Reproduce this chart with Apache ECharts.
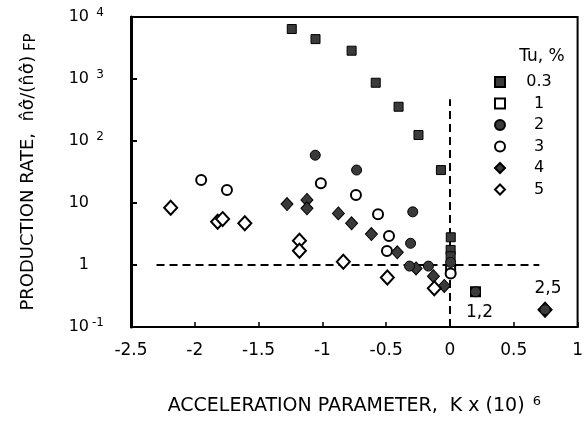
<!DOCTYPE html>
<html>
<head>
<meta charset="utf-8">
<script src="https://cdn.jsdelivr.net/npm/echarts@6/dist/echarts.min.js"></script>
<style>html,body{margin:0;padding:0;background:#fff;}#c{width:586px;height:423px;}</style>
</head>
<body>
<div id="c"></div>
<script>
// ---- data ----
var xTicks = [-2.5, -2, -1.5, -1, -0.5, 0, 0.5, 1];
var yTickExponents = [-1, 0, 1, 2, 3, 4];
var legendNames = ['0.3', '1', '2', '3', '4', '5'];
var tu03 = [[-1.24,6400],[-1.054,4400],[-0.771,2860],[-0.582,870],[-0.403,357],[-0.247,125],[-0.071,34],[0.006,2.8],[0.005,1.75],[0.005,1.38]];
var tu1  = [[0.005,0.85],[0.2,0.37]];
var tu2  = [[-1.056,59],[-0.732,34],[-0.292,7.2],[-0.309,2.24],[-0.317,0.96],[-0.169,0.96],[0.005,1.1],[0.2,0.37],[0.745,0.19]];
var tu3  = [[-1.95,23.5],[-1.748,16.2],[-1.012,20.8],[-0.737,13.5],[-0.564,6.6],[-0.478,2.94],[-0.494,1.68],[0.005,0.73]];
var tu4  = [[-1.277,9.6],[-1.121,11.2],[-1.121,8.2],[-0.875,6.8],[-0.771,4.7],[-0.616,3.16],[-0.413,1.6],[-0.266,0.88],[-0.13,0.66],[-0.045,0.46]];
var tu5  = [[-2.189,8.4],[-1.821,5.0],[-1.782,5.5],[-1.608,4.7],[-1.18,2.47],[-1.18,1.7],[-0.836,1.13],[-0.491,0.63],[-0.123,0.42],[0.745,0.19]];
var hLine = [[-2.3,1],[0.7,1]];
var vLine = [[0,0.1],[0,470]];
var notesBelow = [[0.2,0.37,'1,2']];
var notesAbove = [[0.745,0.19,'2,5']];

var FONT = 'DejaVu Sans';
var FILL = '#3a3a3a';
var chart = echarts.init(document.getElementById('c'), null, {renderer:'canvas'});

function scatter(name, data, symbol, size, filled, z) {
  return {
    name: name, type: 'scatter', data: data, symbol: symbol, symbolSize: size, z: z || 5,
    itemStyle: filled ? {color: FILL, borderColor: '#000', borderWidth: 1, opacity: 1}
                      : {color: '#fff', borderColor: '#000', borderWidth: 2, opacity: 1}
  };
}
function dashed(data) {
  return {type: 'line', data: data, symbol: 'none', z: 2, silent: true,
    lineStyle: {color: '#000', width: 2, type: [8,5]}};
}
function notes(data, pos, dist, off) {
  return {type: 'scatter', data: data, symbol: 'circle', symbolSize: 1, z: 1, silent: true,
    itemStyle: {color: '#fff', opacity: 1},
    label: {show: true, position: pos, distance: dist, offset: off, color: '#000', opacity: 1,
      fontFamily: FONT, fontSize: 17,
      formatter: function (p) { return p.data[2]; }}};
}

var option = {
  animation: false,
  backgroundColor: '#fff',
  grid: {left: 131, right: 5, top: 17, bottom: 96, show: true, borderColor: '#000', borderWidth: 2, backgroundColor: 'transparent'},
  title: {text: 'Tu, %', left: 537, top: 43, textAlign: 'center',
    textStyle: {fontFamily: FONT, fontSize: 17, fontWeight: 'normal', color: '#000'}},
  legend: {
    data: legendNames, orient: 'vertical', left: 489, top: 69,
    itemWidth: 10, itemHeight: 10, itemGap: 5.5,
    formatter: '{c|{name}}',
    textStyle: {fontFamily: FONT, fontSize: 16, color: '#000',
      rich: {c: {fontFamily: FONT, fontSize: 16, color: '#000', width: 58, align: 'center', lineHeight: 16}}}
  },
  xAxis: {
    type: 'value', min: -2.5, max: 1, interval: 0.5,
    axisLine: {show: true, onZero: false, lineStyle: {color: '#000', width: 2}},
    axisTick: {show: true, inside: true, length: 5, lineStyle: {color: '#000', width: 1.5}},
    splitLine: {show: false},
    axisLabel: {margin: 15, color: '#000', fontFamily: FONT, fontSize: 17,
      formatter: function (v) { return String(v); }},
    name: '{t|ACCELERATION PARAMETER,  K x (10) }{s|6}',
    nameLocation: 'middle', nameGap: 68,
    nameTextStyle: {rich: {
      t: {fontFamily: FONT, fontSize: 19, color: '#000'},
      s: {fontFamily: FONT, fontSize: 13, color: '#000', padding: [0,0,10,2]}
    }}
  },
  yAxis: {
    type: 'log', logBase: 10, min: 0.1, max: 10000,
    axisLine: {show: true, onZero: false, lineStyle: {color: '#000', width: 3}},
    axisTick: {show: true, inside: true, length: 6, lineStyle: {color: '#000', width: 2}},
    minorTick: {show: false},
    splitLine: {show: false},
    axisLabel: {margin: 27, color: '#000',
      formatter: function (v) {
        var e = Math.round(Math.log10(v));
        if (e === 0) return '{b|1}{s| }';
        if (e === 1) return '{b|10}{s| }';
        return '{b|10}{s|' + e + '}';
      },
      rich: {
        b: {fontFamily: FONT, fontSize: 16, color: '#000'},
        s: {fontFamily: FONT, fontSize: 12, color: '#000', width: 13, padding: [0,0,9,2]}
      }
    },
    name: '{t|PRODUCTION RATE,  n\u0302\u03C3\u0302/(n\u0302\u03C3\u0302)}{f| FP}',
    nameLocation: 'middle', nameGap: 92, nameRotate: 90,
    nameTextStyle: {rich: {
      t: {fontFamily: FONT, fontSize: 18, color: '#000'},
      f: {fontFamily: FONT, fontSize: 15, color: '#000', padding: [7,0,0,0]}
    }}
  },
  series: [
    dashed(hLine), dashed(vLine),
    scatter('0.3', tu03, 'rect', 9, true),
    scatter('1', tu1, 'rect', 9, false),
    scatter('2', tu2, 'circle', 10, true, 6),
    scatter('3', tu3, 'circle', 10, false),
    scatter('4', tu4, 'diamond', [12,13], true),
    scatter('5', tu5, 'diamond', [13,14], false),
    notes(notesBelow, 'bottom', 12, [4,0]),
    notes(notesAbove, 'top', 14, [3,2])
  ]
};
chart.setOption(option);
</script>
</body>
</html>
